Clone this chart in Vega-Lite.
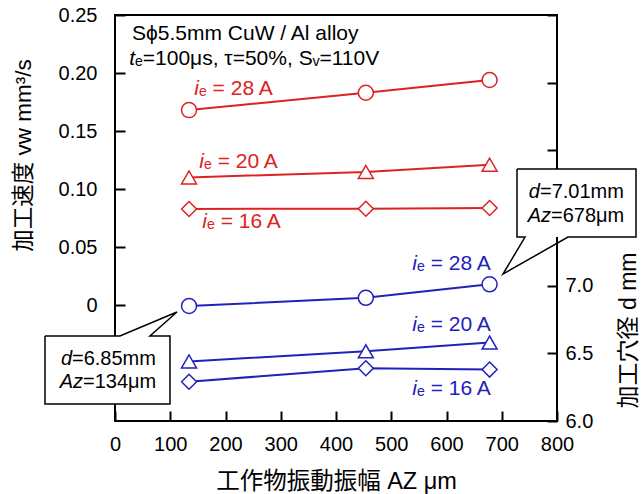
{
  "$schema": "https://vega.github.io/schema/vega-lite/v6.json",
  "width": 442,
  "height": 406,
  "autosize": {"type": "none"},
  "padding": {"left": 115, "top": 15, "right": 84, "bottom": 73},
  "background": "white",
  "config": {
    "view": {"stroke": "black", "strokeWidth": 2},
    "font": "Liberation Sans",
    "text": {"font": "Liberation Sans", "fontSize": 20}
  },
  "datasets": {
    "v": [
      {"cur": "28", "x": 134, "y": 0.168},
      {"cur": "28", "x": 454, "y": 0.183},
      {"cur": "28", "x": 678, "y": 0.194},
      {"cur": "20", "x": 134, "y": 0.110},
      {"cur": "20", "x": 454, "y": 0.1147},
      {"cur": "20", "x": 678, "y": 0.121},
      {"cur": "16", "x": 134, "y": 0.0828},
      {"cur": "16", "x": 454, "y": 0.083},
      {"cur": "16", "x": 678, "y": 0.0836}
    ],
    "d": [
      {"cur": "28", "x": 134, "y": 6.85},
      {"cur": "28", "x": 454, "y": 6.91},
      {"cur": "28", "x": 678, "y": 7.01},
      {"cur": "20", "x": 134, "y": 6.44},
      {"cur": "20", "x": 454, "y": 6.515},
      {"cur": "20", "x": 678, "y": 6.58},
      {"cur": "16", "x": 134, "y": 6.29},
      {"cur": "16", "x": 454, "y": 6.39},
      {"cur": "16", "x": 678, "y": 6.38}
    ],
    "lab": [
      {"x": 152.0, "y": 0.1862, "a": "i", "b": "ₑ = 28 A", "g": "v"},
      {"x": 161.1, "y": 0.1233, "a": "i", "b": "ₑ = 20 A", "g": "v"},
      {"x": 166.5, "y": 0.0716, "a": "i", "b": "ₑ = 16 A", "g": "v"},
      {"x": 546.6, "y": 0.0353, "a": "i", "b": "ₑ = 28 A", "g": "d"},
      {"x": 546.6, "y": -0.0172, "a": "i", "b": "ₑ = 20 A", "g": "d"},
      {"x": 546.6, "y": -0.0724, "a": "i", "b": "ₑ = 16 A", "g": "d"},
      {"x": 30.8, "y": 0.2336, "a": "", "b": "Sϕ5.5mm CuW / Al alloy", "g": "k"},
      {"x": 36.2, "y": 0.2121, "a": "t", "b": "ₑ=100μs, τ=50%, Sᵥ=110V", "g": "k"}
    ],
    "call": [
      {"x": 769.2, "y": 0.0974, "a": "d", "b": "=7.01mm"},
      {"x": 789.1, "y": 0.0767, "a": "Az", "b": "=678μm"},
      {"x": -77.8, "y": -0.0466, "a": "d", "b": "=6.85mm"},
      {"x": -57.9, "y": -0.0664, "a": "Az", "b": "=134μm"}
    ],
    "box": [
      {"x": 727.6, "x2": 943.0, "y": 0.0586, "y2": 0.1172},
      {"x": -126.7, "x2": 99.5, "y": -0.0853, "y2": -0.0267}
    ],
    "outline": [
      {"b": "A", "o": 1, "x": 727.6, "y": 0.1172},
      {"b": "A", "o": 2, "x": 943.0, "y": 0.1172},
      {"b": "A", "o": 3, "x": 943.0, "y": 0.0586},
      {"b": "A", "o": 4, "x": 819.9, "y": 0.0586},
      {"b": "A", "o": 5, "x": 702.3, "y": 0.0267},
      {"b": "A", "o": 6, "x": 742.1, "y": 0.0586},
      {"b": "A", "o": 7, "x": 727.6, "y": 0.0586},
      {"b": "A", "o": 8, "x": 727.6, "y": 0.1172},
      {"b": "B", "o": 1, "x": -126.7, "y": -0.0267},
      {"b": "B", "o": 2, "x": 9.0, "y": -0.0267},
      {"b": "B", "o": 3, "x": 112.2, "y": -0.006},
      {"b": "B", "o": 4, "x": 63.3, "y": -0.0267},
      {"b": "B", "o": 5, "x": 99.5, "y": -0.0267},
      {"b": "B", "o": 6, "x": 99.5, "y": -0.0853},
      {"b": "B", "o": 7, "x": -126.7, "y": -0.0853},
      {"b": "B", "o": 8, "x": -126.7, "y": -0.0267}
    ]
  },
  "encoding": {
    "x": {
      "field": "x", "type": "quantitative",
      "scale": {"domain": [0, 800], "nice": false, "zero": false},
      "axis": {
        "values": [0, 100, 200, 300, 400, 500, 600, 700, 800],
        "format": "d",
        "domain": false, "grid": false,
        "tickSize": -10, "tickWidth": 2, "tickColor": "black",
        "labelPadding": 23, "labelFontSize": 20, "labelColor": "black", "labelFont": "Liberation Sans",
        "labelFlush": false,
        "title": "工作物振動振幅  AZ μm",
        "titleFont": "Liberation Sans, Noto Sans CJK JP",
        "titleFontSize": 23.5, "titleFontWeight": "normal", "titleColor": "black",
        "titleBaseline": "middle", "titleY": 60
      }
    }
  },
  "layer": [
    {
      "encoding": {
        "y": {
          "field": "y", "type": "quantitative",
          "scale": {"domain": [-0.1, 0.25], "nice": false, "zero": false},
          "axis": {
            "orient": "left",
            "values": [0, 0.05, 0.1, 0.15, 0.2, 0.25],
            "labelExpr": "datum.value == 0 ? '0' : format(datum.value, '.2f')",
            "domain": false, "grid": false,
            "tickSize": -10, "tickWidth": 2, "tickColor": "black",
            "labelPadding": 28, "labelFontSize": 20, "labelColor": "black", "labelFont": "Liberation Sans",
            "labelFlush": false,
            "title": "加工速度  vw mm³/s",
            "titleFont": "Liberation Sans, Noto Sans CJK JP",
            "titleFontSize": 22.5, "titleFontWeight": "normal", "titleColor": "black",
            "titleAngle": -90, "titleBaseline": "middle", "titleAlign": "center",
            "titleX": -92, "titleY": 140
          }
        }
      },
      "layer": [
        {
          "data": {"name": "v"},
          "mark": {"type": "line", "color": "#dd2222", "strokeWidth": 2},
          "encoding": {"detail": {"field": "cur"}}
        },
        {
          "data": {"name": "v"},
          "mark": {"type": "point", "filled": true, "fill": "white", "stroke": "#dd2222", "strokeWidth": 1.5, "size": 225, "opacity": 1},
          "encoding": {
            "shape": {"field": "cur", "type": "nominal", "scale": {"domain": ["28", "20", "16"], "range": ["circle", "triangle-up", "diamond"]}, "legend": null}
          }
        },
        {
          "data": {"name": "box"},
          "mark": {"type": "rect", "fill": "white", "stroke": null},
          "encoding": {"x2": {"field": "x2"}, "y2": {"field": "y2"}}
        },
        {
          "data": {"name": "outline"},
          "mark": {"type": "line", "color": "black", "strokeWidth": 1.5, "strokeJoin": "miter"},
          "encoding": {"detail": {"field": "b"}, "order": {"field": "o", "type": "quantitative"}}
        },
        {
          "data": {"name": "lab"},
          "mark": {"type": "text", "align": "right", "baseline": "middle", "fontStyle": "italic", "fontSize": 21},
          "encoding": {
            "text": {"field": "a"},
            "color": {"field": "g", "type": "nominal", "scale": {"domain": ["v", "d", "k"], "range": ["#dd2222", "#2222bb", "black"]}, "legend": null}
          }
        },
        {
          "data": {"name": "lab"},
          "mark": {"type": "text", "align": "left", "baseline": "middle", "fontSize": 21},
          "encoding": {
            "text": {"field": "b"},
            "color": {"field": "g", "type": "nominal", "scale": {"domain": ["v", "d", "k"], "range": ["#dd2222", "#2222bb", "black"]}, "legend": null}
          }
        },
        {
          "data": {"name": "call"},
          "mark": {"type": "text", "align": "right", "baseline": "middle", "fontStyle": "italic", "fontSize": 20, "color": "black"},
          "encoding": {"text": {"field": "a"}}
        },
        {
          "data": {"name": "call"},
          "mark": {"type": "text", "align": "left", "baseline": "middle", "fontSize": 20, "color": "black"},
          "encoding": {"text": {"field": "b"}}
        }
      ]
    },
    {
      "data": {"name": "d"},
      "encoding": {
        "y": {
          "field": "y", "type": "quantitative",
          "scale": {"domain": [6, 9], "nice": false, "zero": false},
          "axis": {
            "orient": "right",
            "values": [6, 6.5, 7, 7.5, 8, 8.5, 9],
            "labelExpr": "datum.value <= 7 ? format(datum.value, '.1f') : ''",
            "domain": false, "grid": false,
            "tickSize": -10, "tickWidth": 2, "tickColor": "black",
            "labelPadding": 18, "labelFontSize": 20, "labelColor": "black", "labelFont": "Liberation Sans",
            "labelFlush": false,
            "title": "加工穴径 d mm",
            "titleFont": "Liberation Sans, Noto Sans CJK JP",
            "titleFontSize": 23, "titleFontWeight": "normal", "titleColor": "black",
            "titleAngle": -90, "titleBaseline": "middle", "titleAlign": "center",
            "titleX": 71, "titleY": 315
          }
        }
      },
      "layer": [
        {
          "mark": {"type": "line", "color": "#2222bb", "strokeWidth": 2},
          "encoding": {"detail": {"field": "cur"}}
        },
        {
          "mark": {"type": "point", "filled": true, "fill": "white", "stroke": "#2222bb", "strokeWidth": 1.5, "size": 225, "opacity": 1},
          "encoding": {
            "shape": {"field": "cur", "type": "nominal", "scale": {"domain": ["28", "20", "16"], "range": ["circle", "triangle-up", "diamond"]}, "legend": null}
          }
        }
      ]
    }
  ],
  "resolve": {"scale": {"y": "independent"}, "axis": {"y": "independent"}}
}
